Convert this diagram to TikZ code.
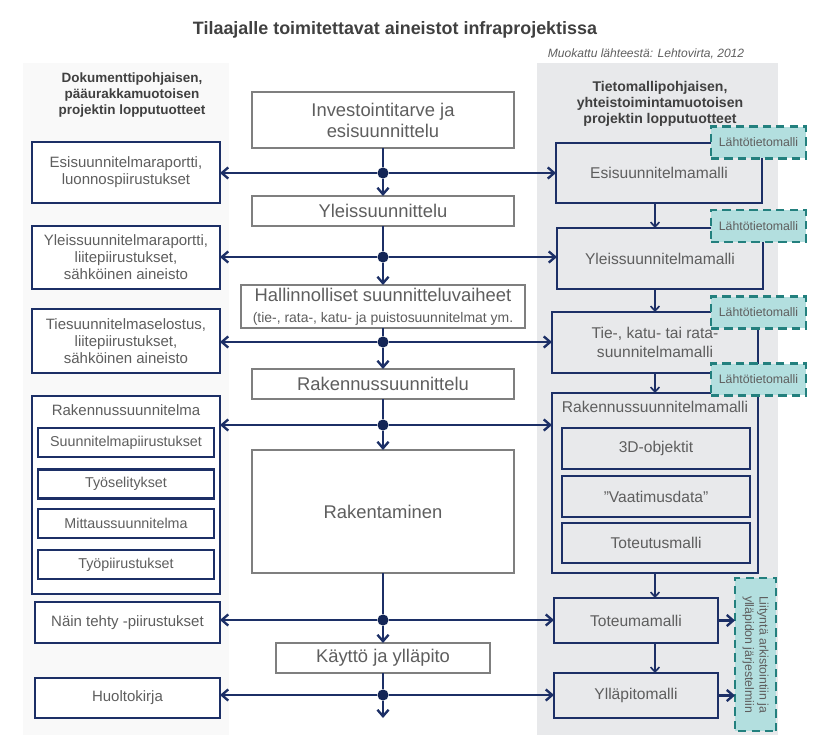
\documentclass[tikz,border=0pt]{standalone}
\usepackage{fontspec}
\setmainfont{Liberation Sans}
\usetikzlibrary{arrows.meta}
\definecolor{navy}{HTML}{1C2F66}
\definecolor{navydark}{HTML}{142657}
\definecolor{stagegray}{HTML}{7F7F7F}
\definecolor{txtgray}{HTML}{5E5E5E}
\definecolor{headgray}{HTML}{404040}
\definecolor{panelgray}{HTML}{E8E9EB}
\definecolor{leftpanel}{HTML}{F9F9F9}
\definecolor{tagfill}{HTML}{B3DFDF}
\definecolor{tagline}{HTML}{23807E}
\begin{document}
\begin{tikzpicture}[x=0.3mm,y=-0.3mm,inner sep=0pt,outer sep=0pt,
>={Straight Barb[length=5.5pt,width=9.5pt,line width=2pt]},
stage/.style={draw=stagegray,line width=1.6pt,fill=white,text=txtgray,align=center,minimum width=7.86cm,font=\fontsize{15.7}{18}\selectfont},
docbox/.style={draw=navy,line width=2pt,fill=white,text=txtgray,align=center,minimum width=5.64cm,font=\fontsize{12.8}{14.5}\selectfont},
docpart/.style={docbox,minimum width=5.28cm,minimum height=0.86cm,font=\fontsize{12.2}{14}\selectfont},
modelbox/.style={draw=navy,line width=2pt,fill=panelgray,text=txtgray,align=center,minimum width=6.18cm,font=\fontsize{13.3}{15.5}\selectfont},
modelpart/.style={modelbox,minimum width=5.64cm,minimum height=1.22cm},
tagbox/.style={draw=tagline,dash pattern=on 7pt off 4.5pt,line width=2pt,fill=tagfill,text=txtgray,minimum width=2.85cm,minimum height=0.95cm,font=\fontsize{10.5}{12.5}\selectfont},
flow/.style={->,draw=navy,line width=2.3pt},
modelflow/.style={-{Straight Barb[length=4pt,width=7.5pt,line width=1.4pt]},draw=navy,line width=1.4pt},
junction/.style={circle,fill=navydark,minimum size=9.5pt},
header/.style={text=headgray,align=center,font=\bfseries\fontsize{12}{13.6}\selectfont}]
\useasboundingbox (0,0) rectangle (820,751);
\fill[leftpanel] (23,63) rectangle (229,735);
\fill[panelgray] (537,63) rectangle (778,735);
\draw (395,30) node[font=\bfseries\fontsize{15.3}{18}\selectfont,text=headgray] (title) {Tilaajalle toimitettavat aineistot infraprojektissa};
\draw (646,54) node[font=\itshape\fontsize{10.3}{12}\selectfont,text=txtgray] (source) {Muokattu lähteestä: Lehtovirta, 2012};
\draw (132,95) node[header,font=\bfseries\fontsize{11.5}{13.8}\selectfont] (dokotsikko) {Dokumenttipohjaisen,\\pääurakkamuotoisen\\projektin lopputuotteet};
\draw (660,104) node[header] (tieto-otsikko) {Tietomallipohjaisen,\\yhteistoimintamuotoisen\\projektin lopputuotteet};
% keskimmainen sarake
\draw (383,120) node[stage,minimum height=1.68cm] (invest) {Investointitarve ja\\esisuunnittelu};
\draw (383,211) node[stage,minimum height=0.9cm] (yleis) {Yleissuunnittelu};
\draw (383,306.5) node[stage,minimum width=8.52cm,minimum height=1.29cm] (hallinto) {Hallinnolliset suunnitteluvaiheet\\{\fontsize{11.9}{13}\selectfont(tie-, rata-, katu- ja puistosuunnitelmat ym.}};
\draw (383,384) node[stage,minimum height=0.9cm] (rsuunn) {Rakennussuunnittelu};
\draw (383,511.5) node[stage,minimum height=3.69cm] (rakent) {Rakentaminen};
\draw (383,658) node[stage,minimum width=6.42cm,minimum height=0.9cm] (kaytto) {Käyttö ja ylläpito};
\draw (383,173) node[junction] (j1) {};
\draw (383,257) node[junction] (j2) {};
\draw (383,342) node[junction] (j3) {};
\draw (383,425) node[junction] (j4) {};
\draw (383,620) node[junction] (j5) {};
\draw (383,695) node[junction] (j6) {};
\coordinate (jend) at (383,718);
% dokumentit
\draw (126,172.5) node[docbox,minimum height=1.83cm] (esirap) {Esisuunnitelmaraportti,\\luonnospiirustukset};
\draw (126,257.5) node[docbox,minimum height=1.89cm] (yleisrap) {Yleissuunnitelmaraportti,\\liitepiirustukset,\\sähköinen aineisto};
\draw (126,341) node[docbox,minimum height=1.92cm] (tierap) {Tiesuunnitelmaselostus,\\liitepiirustukset,\\sähköinen aineisto};
\draw (126,495) node[docbox,minimum height=5.94cm] (rsuunnitelma) {};
\draw (126,410) node[text=txtgray,font=\fontsize{12.8}{14.5}\selectfont] (rsotsikko) {Rakennussuunnitelma};
\draw (126,442.5) node[docpart] (piirustukset) {Suunnitelmapiirustukset};
\draw (126,484) node[docpart] (selitykset) {Työselitykset};
\draw (126,523.5) node[docpart] (mittaus) {Mittaussuunnitelma};
\draw (126,564.5) node[docpart] (tyopiir) {Työpiirustukset};
\draw (127.5,622.5) node[docbox,minimum width=5.55cm,minimum height=1.23cm] (naintehty) {Näin tehty -piirustukset};
\draw (127.5,698) node[docbox,minimum width=5.55cm,minimum height=1.2cm] (huolto) {Huoltokirja};
% mallit
\draw (659,173) node[modelbox,minimum height=1.8cm] (esimalli) {Esisuunnitelmamalli};
\draw (660,258.5) node[modelbox,minimum height=1.83cm] (yleismalli) {Yleissuunnitelmamalli};
\draw (655,342.5) node[modelbox,minimum height=1.83cm] (tiemalli) {Tie-, katu- tai rata-\\suunnitelmamalli};
\draw (655,483) node[modelbox,minimum height=5.4cm] (rmalli) {};
\draw (655,407) node[text=txtgray,font=\fontsize{13.3}{15}\selectfont] (rmotsikko) {Rakennussuunnitelmamalli};
\draw (656,448.5) node[modelpart] (objektit) {3D-objektit};
\draw (656,496.5) node[modelpart] (vaatimus) {”Vaatimusdata”};
\draw (656,543) node[modelpart,minimum height=1.2cm] (toteutus) {Toteutusmalli};
\draw (636,620.5) node[modelbox,minimum width=4.92cm,minimum height=1.35cm] (toteuma) {Toteumamalli};
\draw (636,695.5) node[modelbox,minimum width=4.92cm,minimum height=1.35cm] (yllapito) {Ylläpitomalli};
\draw (758.5,142.5) node[tagbox] (lahto1) {Lähtötietomalli};
\draw (758.5,226) node[tagbox] (lahto2) {Lähtötietomalli};
\draw (758.5,312.5) node[tagbox] (lahto3) {Lähtötietomalli};
\draw (758.5,379.5) node[tagbox] (lahto4) {Lähtötietomalli};
\draw (755.5,654.5) node[tagbox,rotate=-90,align=center,minimum width=4.59cm,minimum height=1.23cm] (liitynta) {Liityntä arkistointiin ja\\ylläpidon järjestelmiin};
% nuolet
\draw[flow,-] (invest) -- (j1);
\draw[flow] (j1) -- (yleis);
\draw[flow] (j1) -- (j1 -| esirap.east);
\draw[flow] (j1) -- (j1 -| esimalli.west);
\draw[flow,-] (yleis) -- (j2);
\draw[flow] (j2) -- (hallinto);
\draw[flow] (j2) -- (j2 -| yleisrap.east);
\draw[flow] (j2) -- (j2 -| yleismalli.west);
\draw[flow,-] (hallinto) -- (j3);
\draw[flow] (j3) -- (rsuunn);
\draw[flow] (j3) -- (j3 -| tierap.east);
\draw[flow] (j3) -- (j3 -| tiemalli.west);
\draw[flow,-] (rsuunn) -- (j4);
\draw[flow] (j4) -- (rakent);
\draw[flow] (j4) -- (j4 -| rsuunnitelma.east);
\draw[flow] (j4) -- (j4 -| rmalli.west);
\draw[flow,-] (rakent) -- (j5);
\draw[flow] (j5) -- (kaytto);
\draw[flow] (j5) -- (j5 -| naintehty.east);
\draw[flow] (j5) -- (j5 -| toteuma.west);
\draw[flow,-] (kaytto) -- (j6);
\draw[flow] (j6) -- (jend);
\draw[flow] (j6) -- (j6 -| huolto.east);
\draw[flow] (j6) -- (j6 -| yllapito.west);
\draw[modelflow] (esimalli.south -| tiemalli) -- (yleismalli.north -| tiemalli);
\draw[modelflow] (yleismalli.south -| tiemalli) -- (tiemalli.north);
\draw[modelflow] (tiemalli) -- (rmalli);
\draw[modelflow] (rmalli.south) -- (rmalli.south |- toteuma.north);
\draw[modelflow] (toteuma.south -| rmalli) -- (yllapito.north -| rmalli);
\draw[flow] (toteuma) -- (toteuma -| liitynta.south);
\draw[flow] (yllapito) -- (yllapito -| liitynta.south);
\end{tikzpicture}
\end{document}
